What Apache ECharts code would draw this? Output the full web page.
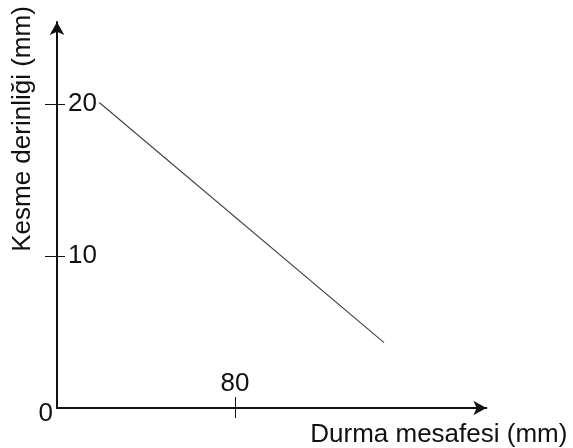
<!DOCTYPE html>
<html>
<head>
<meta charset="utf-8">
<script src="https://cdn.jsdelivr.net/npm/echarts@6/dist/echarts.min.js"></script>
<style>
  html, body { margin: 0; padding: 0; background: #fff; }
  #chart { width: 573px; height: 448px; }
</style>
</head>
<body>
<div id="chart"></div>
<script>
// Stopping distance (mm) against cutting depth (mm)
const xValues = [19, 147];
const yValues = [20.1, 4.3];
const xTicks = [80];
const yTicks = [10, 20];
const originLabel = [0];
const xTitle = 'Durma mesafesi (mm)';
const yTitle = 'Kesme derinliği (mm)';

const FONT = 'Liberation Sans, Arial, sans-serif';
const FS = 26;
const INK = '#111';

const chart = echarts.init(document.getElementById('chart'), null, { renderer: 'canvas' });

const baseX = { type: 'value', min: 0, max: 193, splitLine: { show: false } };
const baseY = { type: 'value', min: 0, max: 25.4, splitLine: { show: false } };

chart.setOption({
  animation: false,
  backgroundColor: '#fff',
  grid: { left: 57, right: 86.6, top: 22, bottom: 40, containLabel: false, outerBoundsMode: 'none' },
  xAxis: [
    Object.assign({}, baseX, {
      position: 'bottom',
      axisLine: { show: true, onZero: false, lineStyle: { color: INK, width: 2 },
                  symbol: ['none', 'arrow'], symbolSize: [11, 13] },
      axisTick: { show: true, inside: true, length: 11, customValues: xTicks,
                  lineStyle: { color: INK, width: 1 } },
      axisLabel: { show: true, inside: true, margin: 11, customValues: xTicks,
                   color: INK, fontFamily: FONT, fontSize: FS },
      name: xTitle,
      nameLocation: 'end',
      nameGap: 81,
      nameMoveOverlap: false,
      nameTextStyle: { color: INK, fontFamily: FONT, fontSize: FS,
                       align: 'right', verticalAlign: 'top', padding: [14, 0, 0, 0] }
    }),
    Object.assign({}, baseX, {
      position: 'bottom',
      axisLine: { show: false, onZero: false },
      axisTick: { show: true, inside: false, length: 10, customValues: xTicks,
                  lineStyle: { color: INK, width: 1 } },
      axisLabel: { show: false }
    })
  ],
  yAxis: [
    Object.assign({}, baseY, {
      position: 'left',
      offset: 0,
      axisLine: { show: true, onZero: false, lineStyle: { color: INK, width: 2 },
                  symbol: ['none', 'arrow'], symbolSize: [11, 13] },
      axisTick: { show: true, inside: true, length: 8, customValues: yTicks,
                  lineStyle: { color: INK, width: 1 } },
      axisLabel: { show: true, inside: true, margin: 11, customValues: yTicks,
                   color: INK, fontFamily: FONT, fontSize: FS }
    }),
    Object.assign({}, baseY, {
      position: 'left',
      offset: 0,
      axisLine: { show: false, onZero: false },
      axisTick: { show: true, inside: false, length: 12, customValues: yTicks,
                  lineStyle: { color: INK, width: 1 } },
      axisLabel: { show: true, inside: false, margin: 4, customValues: originLabel,
                   color: INK, fontFamily: FONT, fontSize: FS,
                   verticalAlign: 'top', padding: [-7, 0, 0, 0] }
    })
  ],
  graphic: [{
    type: 'text',
    x: 23,
    y: 129,
    rotation: Math.PI / 2,
    style: { text: yTitle, fill: INK, font: FS + 'px ' + FONT,
             textAlign: 'center', textVerticalAlign: 'middle' }
  }],
  series: [{
    type: 'line',
    xAxisIndex: 0,
    yAxisIndex: 0,
    data: xValues.map((x, i) => [x, yValues[i]]),
    symbol: 'none',
    lineStyle: { color: '#444', width: 1.2 }
  }]
});
</script>
</body>
</html>
